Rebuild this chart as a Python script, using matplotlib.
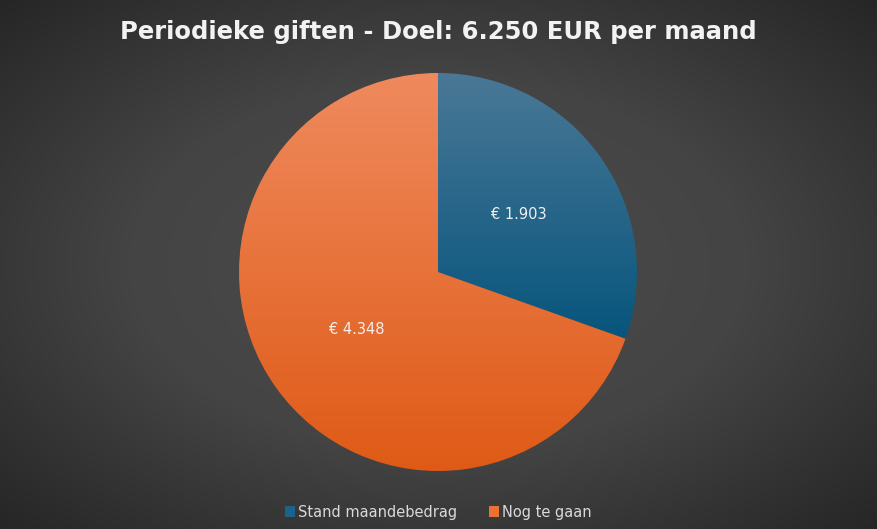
import numpy as np
import matplotlib
matplotlib.use("Agg")
import matplotlib.pyplot as plt
from matplotlib.patches import Patch
from matplotlib.colors import LinearSegmentedColormap

# data
categories = ["Stand maandebedrag", "Nog te gaan"]
values = [1903, 4348]
title = "Periodieke giften - Doel: 6.250 EUR per maand"

# (top colour, bottom colour) per slice
grad_colors = [("#4a7896", "#07557d"), ("#ef8a5e", "#df5a16")]
legend_colors = ["#1d6389", "#ed7232"]

W, H = 877, 529
fig = plt.figure(figsize=(W / 100, H / 100), dpi=100)

# radial gradient background
bg = fig.add_axes([0, 0, 1, 1])
bg.set_axis_off()
yy, xx = np.mgrid[0:H, 0:W]
r = np.sqrt(((xx - W / 2) / (W / 2)) ** 2 + ((yy - H / 2) / (H / 2)) ** 2) / np.sqrt(2)
bg_cmap = LinearSegmentedColormap.from_list("bg", ["#4c4c4c", "#444444", "#262626"])
bg.imshow(r, cmap=bg_cmap, aspect="auto", extent=[0, 1, 0, 1], vmin=0, vmax=1)
bg.set_xlim(0, 1)
bg.set_ylim(0, 1)

# pie axes: centre (438,272) px, radius ~199 px
cx, cy, rad = 438, 272, 199
ax = fig.add_axes([(cx - rad) / W, (H - cy - rad) / H, 2 * rad / W, 2 * rad / H])
wedges, _ = ax.pie(values, startangle=90, counterclock=False, radius=1,
                   wedgeprops=dict(linewidth=0))
ax.set_xlim(-1, 1)
ax.set_ylim(-1, 1)
ax.set_aspect("equal")

grad = np.linspace(0, 1, 256).reshape(-1, 1)
for w, (top, bot) in zip(wedges, grad_colors):
    w.set_facecolor("none")
    bb = w.get_path().get_extents(w.get_patch_transform())
    cm = LinearSegmentedColormap.from_list("g", [top, bot])
    im = ax.imshow(grad, cmap=cm, extent=[-1, 1, bb.y0, bb.y1], aspect="auto",
                   origin="upper", zorder=1)
    im.set_clip_path(w)

for w, v in zip(wedges, values):
    ang = np.deg2rad((w.theta1 + w.theta2) / 2)
    lab = "€ " + "{:,}".format(v).replace(",", ".")
    ax.text(0.5 * np.cos(ang), 0.5 * np.sin(ang), lab, ha="center", va="center",
            color="#f0f0f0", fontsize=10.5, zorder=3)

fig.text(0.5, 1 - 32 / H, title, ha="center", va="center", color="#f2f2f2",
         fontsize=17.5, fontweight="bold")

handles = [Patch(facecolor=c, edgecolor="none") for c in legend_colors]
leg = fig.legend(handles, categories, loc="center", bbox_to_anchor=(0.5, 1 - 512 / H),
                 ncol=2, frameon=False, handlelength=0.7, handleheight=0.7,
                 handletextpad=0.2, columnspacing=2.2, prop=dict(size=10.5))
for t in leg.get_texts():
    t.set_color("#d9d9d9")

fig.savefig("out.png", dpi=100)
